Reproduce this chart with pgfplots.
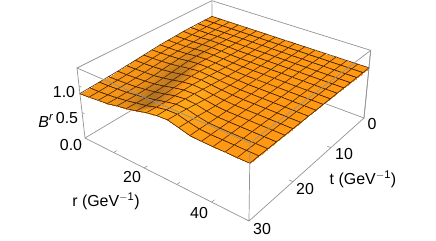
\documentclass[border=0pt]{standalone}
\usepackage{pgfplots}
\usepackage{pgfplotstable}
\usepackage{fontspec}
\setmainfont{Liberation Sans}
\pgfplotsset{compat=1.18}
\pgfplotstableread{
r t B s
0 0 1 0
3.125 0 1 0
6.25 0 1 0
9.375 0 1 0
12.5 0 1 0
15.625 0 1 0
18.75 0 1 0
21.875 0 1 0
25 0 1 0
28.125 0 1 0
31.25 0 1 0
34.375 0 1 0
37.5 0 1 0
40.625 0 1 0
43.75 0 1 0
46.875 0 1 0
50 0 1 0
0 1.875 1 0
3.125 1.875 1 0
6.25 1.875 1 0
9.375 1.875 1 0
12.5 1.875 1 0
15.625 1.875 1 0
18.75 1.875 1 0
21.875 1.875 1 0
25 1.875 1 0
28.125 1.875 1 0
31.25 1.875 1 0
34.375 1.875 1 0
37.5 1.875 1 0
40.625 1.875 1 0
43.75 1.875 1 0
46.875 1.875 1 0
50 1.875 1 0
0 3.75 1 0
3.125 3.75 1 0
6.25 3.75 1 0
9.375 3.75 1 0
12.5 3.75 1 0
15.625 3.75 1 0
18.75 3.75 1 0
21.875 3.75 1 0
25 3.75 1 0
28.125 3.75 1 0
31.25 3.75 1 0
34.375 3.75 1 0
37.5 3.75 1 0
40.625 3.75 1 0
43.75 3.75 1 0
46.875 3.75 1 0
50 3.75 1 0
0 5.625 1 0
3.125 5.625 1 0
6.25 5.625 1 0
9.375 5.625 1.005 -.1
12.5 5.625 1.005 0
15.625 5.625 1 .05
18.75 5.625 1 0
21.875 5.625 1 0
25 5.625 1 0
28.125 5.625 1 0
31.25 5.625 1 0
34.375 5.625 1 0
37.5 5.625 1 0
40.625 5.625 1 0
43.75 5.625 1 0
46.875 5.625 1 0
50 5.625 1 0
0 7.5 1 0
3.125 7.5 .995 0
6.25 7.5 1 -.1
9.375 7.5 1.01 -.15
12.5 7.5 1.01 -.05
15.625 7.5 1.005 .1
18.75 7.5 1 0
21.875 7.5 1 0
25 7.5 1 0
28.125 7.5 1 0
31.25 7.5 1 0
34.375 7.5 1 0
37.5 7.5 1 0
40.625 7.5 1 0
43.75 7.5 1 0
46.875 7.5 1 0
50 7.5 1 0
0 9.375 .99 0
3.125 9.375 .99 0
6.25 9.375 .995 -.1
9.375 9.375 1.01 -.25
12.5 9.375 1.015 -.1
15.625 9.375 1.01 .1
18.75 9.375 1.005 .1
21.875 9.375 1 0
25 9.375 1 0
28.125 9.375 1 0
31.25 9.375 1 0
34.375 9.375 1 0
37.5 9.375 1 0
40.625 9.375 1 0
43.75 9.375 1 0
46.875 9.375 1 0
50 9.375 1 0
0 11.25 .985 0
3.125 11.25 .985 0
6.25 11.25 .99 -.1
9.375 11.25 1.005 -.3
12.5 11.25 1.02 -.3
15.625 11.25 1.02 .1
18.75 11.25 1.015 .2
21.875 11.25 1.005 .1
25 11.25 1 0
28.125 11.25 1 0
31.25 11.25 1 0
34.375 11.25 1 0
37.5 11.25 1 0
40.625 11.25 1 0
43.75 11.25 1 0
46.875 11.25 1 0
50 11.25 1 0
0 13.125 .975 0
3.125 13.125 .98 0
6.25 13.125 .985 -.1
9.375 13.125 1 -.3
12.5 13.125 1.02 -.4
15.625 13.125 1.03 0
18.75 13.125 1.025 .3
21.875 13.125 1.015 .2
25 13.125 1.005 .1
28.125 13.125 1 0
31.25 13.125 1 0
34.375 13.125 1 0
37.5 13.125 1 0
40.625 13.125 1 0
43.75 13.125 1 0
46.875 13.125 1 0
50 13.125 1 0
0 15 .96 0
3.125 15 .965 -.05
6.25 15 .975 -.15
9.375 15 .99 -.3
12.5 15 1.015 -.5
15.625 15 1.035 -.2
18.75 15 1.035 .3
21.875 15 1.025 .3
25 15 1.01 .2
28.125 15 1.005 0
31.25 15 1 0
34.375 15 1 0
37.5 15 1 0
40.625 15 1 0
43.75 15 1 0
46.875 15 1 0
50 15 1 0
0 16.875 .945 -.05
3.125 16.875 .95 -.05
6.25 16.875 .96 -.15
9.375 16.875 .975 -.35
12.5 16.875 1 -.6
15.625 16.875 1.03 -.4
18.75 16.875 1.05 .3
21.875 16.875 1.04 .5
25 16.875 1.025 .3
28.125 16.875 1.01 .1
31.25 16.875 1 0
34.375 16.875 1 0
37.5 16.875 1 0
40.625 16.875 1 0
43.75 16.875 1 0
46.875 16.875 1 0
50 16.875 1 0
0 18.75 .93 -.05
3.125 18.75 .935 -.1
6.25 18.75 .945 -.15
9.375 18.75 .96 -.35
12.5 18.75 .98 -.7
15.625 18.75 1.015 -.8
18.75 18.75 1.05 -.1
21.875 18.75 1.055 .6
25 18.75 1.04 .5
28.125 18.75 1.02 .2
31.25 18.75 1.005 0
34.375 18.75 1 0
37.5 18.75 1 0
40.625 18.75 1 0
43.75 18.75 1 0
46.875 18.75 1 0
50 18.75 1 0
0 20.625 .915 -.1
3.125 20.625 .92 -.1
6.25 20.625 .93 -.15
9.375 20.625 .94 -.3
12.5 20.625 .965 -.6
15.625 20.625 1 -.8
18.75 20.625 1.04 -.2
21.875 20.625 1.065 .6
25 20.625 1.055 .7
28.125 20.625 1.03 .3
31.25 20.625 1.01 .1
34.375 20.625 1 0
37.5 20.625 1 0
40.625 20.625 1 0
43.75 20.625 1 0
46.875 20.625 1 0
50 20.625 1 0
0 22.5 .9 -.1
3.125 22.5 .905 -.1
6.25 22.5 .915 -.1
9.375 22.5 .93 -.2
12.5 22.5 .95 -.5
15.625 22.5 .985 -.7
18.75 22.5 1.03 -.3
21.875 22.5 1.065 .3
25 22.5 1.07 .8
28.125 22.5 1.045 .5
31.25 22.5 1.015 .2
34.375 22.5 1 0
37.5 22.5 1 0
40.625 22.5 1 0
43.75 22.5 1 0
46.875 22.5 1 0
50 22.5 1 0
0 24.375 .89 -.1
3.125 24.375 .895 -.1
6.25 24.375 .905 -.1
9.375 24.375 .92 -.2
12.5 24.375 .945 -.5
15.625 24.375 .975 -.9
18.75 24.375 1.015 -.6
21.875 24.375 1.06 -.1
25 24.375 1.08 .6
28.125 24.375 1.065 .8
31.25 24.375 1.025 .3
34.375 24.375 1 .1
37.5 24.375 1 0
40.625 24.375 1 0
43.75 24.375 1 0
46.875 24.375 1 0
50 24.375 1 0
0 26.25 .88 -.1
3.125 26.25 .885 -.1
6.25 26.25 .9 -.1
9.375 26.25 .915 -.2
12.5 26.25 .94 -.4
15.625 26.25 .97 -.8
18.75 26.25 1.01 -.8
21.875 26.25 1.055 -.2
25 26.25 1.09 .5
28.125 26.25 1.085 .8
31.25 26.25 1.04 .4
34.375 26.25 1.005 .2
37.5 26.25 1 0
40.625 26.25 1 0
43.75 26.25 1 0
46.875 26.25 1 0
50 26.25 1 0
0 28.125 .87 -.1
3.125 28.125 .875 -.1
6.25 28.125 .89 -.1
9.375 28.125 .91 -.15
12.5 28.125 .94 -.3
15.625 28.125 .975 -.6
18.75 28.125 1.01 -.9
21.875 28.125 1.06 -.2
25 28.125 1.095 .7
28.125 28.125 1.1 .7
31.25 28.125 1.05 .4
34.375 28.125 1.01 .2
37.5 28.125 1 0
40.625 28.125 1 0
43.75 28.125 1 0
46.875 28.125 1 0
50 28.125 1 0
0 30 .86 -.1
3.125 30 .87 -.1
6.25 30 .89 -.1
9.375 30 .91 -.1
12.5 30 .945 -.2
15.625 30 .98 -.3
18.75 30 1.02 -.3
21.875 30 1.07 .7
25 30 1.1 .9
28.125 30 1.11 .5
31.25 30 1.06 .4
34.375 30 1.01 .2
37.5 30 1 0
40.625 30 1 0
43.75 30 1 0
46.875 30 1 0
50 30 1 0
}\surfdata
\pgfplotstableread{
r t B
0 30 1.33
0 0 1.33
50 0 1.33
50 0 0
0 0 0
0 30 0
nan nan nan
0 0 1.33
0 0 0
}\backbox
\pgfplotstableread{
r t B
0 30 0
0 30 1.33
50 30 1.33
50 0 1.33
50 0 0
50 30 0
0 30 0
nan nan nan
50 30 1.33
50 30 0
}\frontbox
\pgfplotstableread{
r t B
10 30 0
10 29.4 0
nan nan nan
20 30 0
20 29.4 0
nan nan nan
30 30 0
30 29.4 0
nan nan nan
40 30 0
40 29.4 0
nan nan nan
50 10 0
49 10 0
nan nan nan
50 20 0
49 20 0
nan nan nan
0 30 .5
.8 30 .5
nan nan nan
0 30 1
.8 30 1
}\tickdata
\newcommand\Den{(1-.152*\thisrow{r}/50+.2*(1-\thisrow{t}/30)-.0511*\thisrow{B}/1.33)}
\newcommand\PX{(85+126.15*\thisrow{r}/50+170.32*(1-\thisrow{t}/30)-11.94*\thisrow{B}/1.33)/\Den}
\newcommand\PY{240-(138+49.41*\thisrow{r}/50-63.75*(1-\thisrow{t}/30)-73.48*\thisrow{B}/1.33)/\Den}
\newcommand\lab[3]{\node[inner sep=0pt,anchor=center,font=\fontsize{16}{18}\selectfont] at (axis cs:#1,{240-#2},0){#3};}
\pgfplotsset{colormap={bandicoot}{rgb255(0)=(165,110,40) rgb255(1)=(255,153,20) rgb255(2)=(255,172,28)}}
\begin{document}
\begin{tikzpicture}
\begin{axis}[
  x={(1bp,0bp)},y={(0bp,1bp)},z={(0.05bp,0.05bp)},
  xmin=0,xmax=436,ymin=0,ymax=240,zmin=0,zmax=1,
  hide axis,clip=true,unbounded coords=jump,
  point meta min=-1,point meta max=1,
]
\addplot3[no marks,color=gray!85,line width=.7pt] table[x expr={\PX},y expr={\PY},z expr=0]{\backbox};
\addplot3[surf,mesh/rows=17,shader=faceted interp,faceted color=black!70!orange,line width=.6pt,
  point meta=\thisrow{s}] table[x expr={\PX},y expr={\PY},z expr=0]{\surfdata};
\addplot3[no marks,color=gray!85,line width=.7pt] table[x expr={\PX},y expr={\PY},z expr=0]{\frontbox};
\addplot3[no marks,color=gray!85,line width=.6pt] table[x expr={\PX},y expr={\PY},z expr=0]{\tickdata};
\path (axis cs:0,0,0) rectangle (axis cs:436,240,0);
\lab{132}{177}{20}
\lab{199}{213}{40}
\lab{106}{201}{r (GeV$^{\mathrm{-1}}$)}
\lab{71}{145}{0.0}
\lab{67}{118}{0.5}
\lab{64}{92}{1.0}
\lab{46}{121}{\textit{B}\textsuperscript{\textit{r}}}
\lab{372}{124}{0}
\lab{344}{154}{10}
\lab{305}{189}{20}
\lab{262}{229}{30}
\lab{363}{179}{t (GeV$^{\mathrm{-1}}$)}
\end{axis}
\end{tikzpicture}
\end{document}
